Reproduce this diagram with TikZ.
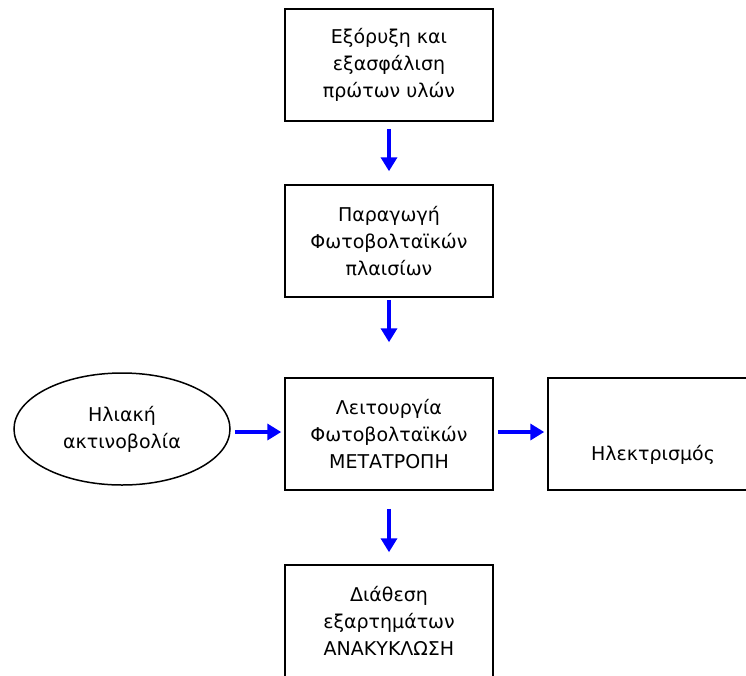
\documentclass[tikz,border=0pt]{standalone}
\usepackage{fontspec}
\setmainfont{DejaVu Sans}
\usetikzlibrary{arrows.meta,shapes.geometric}
\begin{document}
\begin{tikzpicture}[x=1pt,y=-1pt,
    stage/.style={draw,line width=1.5pt,minimum width=208pt,minimum height=112pt,
        align=center,inner sep=0pt,font=\fontsize{19}{27}\selectfont},
    flow/.style={draw=blue,line width=4pt,-{Triangle[length=14pt,width=16pt]}}]
    \useasboundingbox (0,0) rectangle (746,675);

    % Stages of the life cycle
    \node[stage] (mining) at (389,65) {Εξόρυξη και\\εξασφάλιση\\πρώτων υλών};
    \node[stage] (production) at (389,241) {Παραγωγή\\Φωτοβολταϊκών\\πλαισίων};
    \node[stage] (operation) at (389,434) {Λειτουργία\\Φωτοβολταϊκών\\ΜΕΤΑΤΡΟΠΗ};
    \node[stage] (recycle) at (389,621) {Διάθεση\\εξαρτημάτων\\ΑΝΑΚΥΚΛΩΣΗ};
    \node[stage,minimum width=210pt] (power) at (653,434) {};
    \node[font=\fontsize{19}{27}\selectfont] (powertext) at (653,455) {Ηλεκτρισμός};

    % The sun as input
    \node[stage,ellipse,minimum width=216pt] (sun) at (122,429) {Ηλιακή\\ακτινοβολία};

    % Arrows
    \draw[flow] ([yshift=-7pt]mining.south) -- ([yshift=13pt]production.north);
    \draw[flow] ([yshift=-2pt]production.south) -- ([yshift=35pt]operation.north);
    \draw[flow] ([yshift=-18pt]operation.south) -- ([yshift=12pt]recycle.north);
    \draw[flow] ([xshift=4pt,yshift=-3pt]sun.east) -- ([xshift=-3pt,yshift=2pt]operation.west);
    \draw[flow] ([xshift=4pt,yshift=2pt]operation.east) -- ([xshift=-3pt,yshift=2pt]power.west);
\end{tikzpicture}
\end{document}
